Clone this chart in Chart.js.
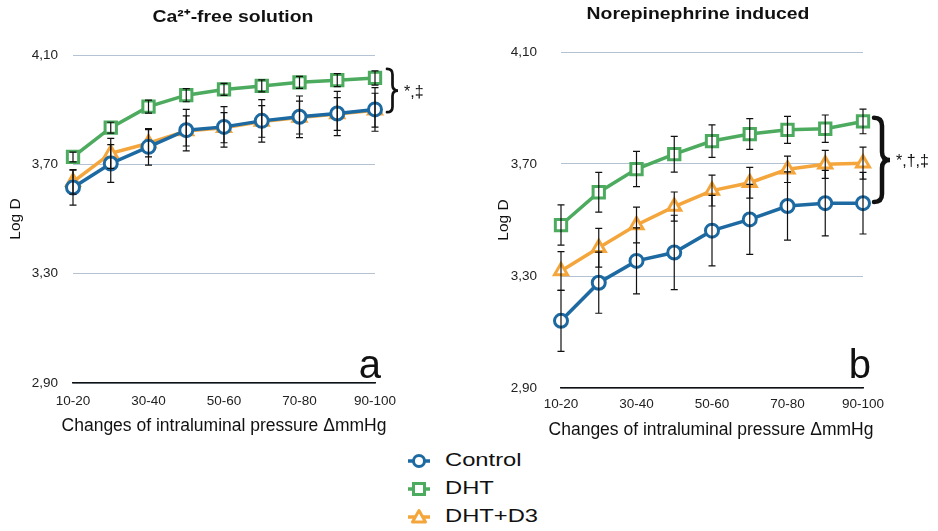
<!DOCTYPE html>
<html>
<head>
<meta charset="utf-8">
<script src="https://cdn.jsdelivr.net/npm/chart.js@4.4.1/dist/chart.umd.min.js"></script>
<style>
  body { margin: 0; background: #fff; font-family: "Liberation Sans", Arial, sans-serif; color: #111; }
  #page { position: relative; width: 938px; height: 531px; overflow: hidden; }
  .panel { position: absolute; top: 0; }
  .ttl { position: absolute; top: 4px; font-weight: bold; font-size: 17px; white-space: nowrap;
         transform: translateX(-50%) scaleX(1.14); }
  .xttl { position: absolute; font-size: 17.5px; line-height: 20px; white-space: nowrap;
          transform: translate(-50%, -50%); }
  #legend { position: absolute; left: 406px; top: 447px; }
  .row { position: relative; height: 28px; }
  .row svg { position: absolute; left: 0; top: 4px; }
  .row span { position: absolute; left: 39px; top: 2px; font-size: 19px; white-space: nowrap;
              transform: scaleX(1.25); transform-origin: left center; }
</style>
</head>
<body>
<div id="page">
  <canvas id="chartA" class="panel" style="left:0" width="469" height="440"></canvas>
  <canvas id="chartB" class="panel" style="left:469px" width="469" height="440"></canvas>
  <div class="ttl" style="left:233px">Ca²⁺-free solution</div>
  <div class="ttl" style="left:698px">Norepinephrine induced</div>
  <div class="xttl" style="left:224px; top:425px">Changes of intraluminal pressure ΔmmHg</div>
  <div class="xttl" style="left:711px; top:429px">Changes of intraluminal pressure ΔmmHg</div>
  <div id="legend"></div>
</div>
<script>
// x categories (ticks shown for every other one)
const pressureLabels = ["10-20", "20-30", "30-40", "40-50", "50-60", "60-70", "70-80", "80-90", "90-100"];
const yTicks = [2.9, 3.3, 3.7, 4.1];

// panel a: Ca2+-free solution (mean, +/- error)
const caControl = [3.615, 3.703, 3.764, 3.825, 3.837, 3.859, 3.874, 3.886, 3.901];
const caControlErr = [0.064, 0.069, 0.067, 0.076, 0.074, 0.078, 0.076, 0.081, 0.080];
const caDht = [3.727, 3.834, 3.911, 3.953, 3.974, 3.987, 4.000, 4.008, 4.016];
const caDhtErr = [0.018, 0.020, 0.024, 0.024, 0.022, 0.022, 0.022, 0.024, 0.026];
const caDhtD3 = [3.636, 3.740, 3.777, 3.822, 3.834, 3.857, 3.871, 3.884, 3.898];
const caDhtD3Err = [0.045, 0.055, 0.050, 0.055, 0.055, 0.058, 0.060, 0.060, 0.062];

// panel b: norepinephrine induced
const neControl = [3.140, 3.276, 3.354, 3.384, 3.462, 3.502, 3.550, 3.560, 3.560];
const neControlErr = [0.109, 0.109, 0.118, 0.133, 0.126, 0.125, 0.122, 0.117, 0.110];
const neDht = [3.482, 3.599, 3.682, 3.735, 3.782, 3.807, 3.822, 3.826, 3.852];
const neDhtErr = [0.072, 0.071, 0.063, 0.064, 0.058, 0.055, 0.048, 0.049, 0.044];
const neDhtD3 = [3.318, 3.401, 3.482, 3.548, 3.605, 3.633, 3.681, 3.699, 3.703];
const neDhtD3Err = [0.069, 0.069, 0.064, 0.052, 0.055, 0.055, 0.047, 0.050, 0.057];

const seriesNames = ["Control", "DHT", "DHT+D3"];
const seriesColors = ["#1d6aa2", "#4dab5f", "#f4a63c"];
const seriesShapes = ["circle", "rect", "triangle"];
const seriesRadius = [6.5, 8, 7.5];

const FONT = "'Liberation Sans', Arial, sans-serif";

// error bars drawn on top of the markers
const errorBars = {
    id: "errorBars",
    afterDatasetsDraw(chart) {
        const { ctx } = chart;
        const y = chart.scales.y;
        ctx.save();
        ctx.strokeStyle = "#111";
        ctx.lineWidth = 1.2;
        chart.data.datasets.forEach((ds, i) => {
            const meta = chart.getDatasetMeta(i);
            ds.errors.forEach((e, j) => {
                const px = meta.data[j].x;
                const top = y.getPixelForValue(ds.data[j] + e);
                const bot = y.getPixelForValue(ds.data[j] - e);
                ctx.beginPath();
                ctx.moveTo(px, top); ctx.lineTo(px, bot);
                ctx.moveTo(px - 3.5, top); ctx.lineTo(px + 3.5, top);
                ctx.moveTo(px - 3.5, bot); ctx.lineTo(px + 3.5, bot);
                ctx.stroke();
            });
        });
        ctx.restore();
    },
};

// panel letter, significance brace and marks
const panelNotes = {
    id: "panelNotes",
    afterDraw(chart, args, opts) {
        const { ctx, chartArea } = chart;
        const y = chart.scales.y;
        ctx.save();
        ctx.fillStyle = "#111";
        ctx.font = "40px " + FONT;
        ctx.textAlign = "right";
        ctx.textBaseline = "alphabetic";
        ctx.fillText(opts.letter, chartArea.right + opts.letterDx, chartArea.bottom - opts.letterDy);

        const y1 = y.getPixelForValue(opts.brace[0]);
        const y2 = y.getPixelForValue(opts.brace[1]);
        const x = chartArea.right + opts.braceDx;
        const w = opts.braceW;
        const h = w / 2;
        const ym = (y1 + y2) / 2;
        ctx.strokeStyle = "#111";
        ctx.lineWidth = opts.braceLw;
        ctx.lineCap = "round";
        ctx.beginPath();
        ctx.moveTo(x, y1);
        ctx.quadraticCurveTo(x + h, y1, x + h, y1 + h);
        ctx.lineTo(x + h, ym - h);
        ctx.quadraticCurveTo(x + h, ym, x + w, ym);
        ctx.quadraticCurveTo(x + h, ym, x + h, ym + h);
        ctx.lineTo(x + h, y2 - h);
        ctx.quadraticCurveTo(x + h, y2, x, y2);
        ctx.stroke();

        ctx.font = "16px " + FONT;
        ctx.textAlign = "left";
        ctx.textBaseline = "middle";
        ctx.fillText(opts.marks, x + w + 6, ym + 2);
        ctx.restore();
    },
};

function makeDatasets(values, errors) {
    return values.map((v, i) => ({
        label: seriesNames[i],
        data: v,
        errors: errors[i],
        borderColor: seriesColors[i],
        backgroundColor: "#ffffff",
        borderWidth: 3.5,
        pointStyle: seriesShapes[i],
        pointRadius: seriesRadius[i],
        pointBorderWidth: 3,
        pointBorderColor: seriesColors[i],
        pointBackgroundColor: "#ffffff",
        tension: 0,
    }));
}

function makeChart(canvasId, values, errors, box, notes) {
    new Chart(document.getElementById(canvasId), {
        type: "line",
        data: { labels: pressureLabels, datasets: makeDatasets(values, errors) },
        plugins: [errorBars, panelNotes],
        options: {
            responsive: false,
            animation: false,
            devicePixelRatio: 1,
            layout: { padding: { left: 0, right: box.right, top: box.top, bottom: 0 } },
            plugins: {
                legend: { display: false },
                tooltip: { enabled: false },
                panelNotes: notes,
            },
            scales: {
                x: {
                    offset: false,
                    afterFit: (s) => { s.height = box.xHeight; },
                    grid: { display: false },
                    border: { display: true, color: "#111", width: 1.6 },
                    ticks: {
                        autoSkip: false,
                        maxRotation: 0,
                        padding: box.xTickPad,
                        color: "#222",
                        font: { family: FONT, size: 13.5 },
                        callback: (v, i) => (i % 2 === 0 ? pressureLabels[i] : ""),
                    },
                    title: { display: false },
                },
                y: {
                    min: yTicks[0],
                    max: yTicks[yTicks.length - 1],
                    afterFit: (s) => { s.width = box.left; },
                    afterBuildTicks: (s) => { s.ticks = yTicks.map((v) => ({ value: v })); },
                    grid: { color: "#b5c2d3", lineWidth: 1, drawTicks: false },
                    border: { display: false },
                    ticks: {
                        padding: box.yTickPad,
                        color: "#222",
                        font: { family: FONT, size: 13.5 },
                        callback: (v) => v.toFixed(2).replace(".", ","),
                    },
                    title: {
                        display: true,
                        text: "Log D",
                        color: "#111",
                        font: { family: FONT, size: 15.5 },
                        padding: { top: box.yTitlePad, bottom: 0 },
                    },
                },
            },
        },
    });
}

makeChart("chartA",
    [caControl, caDht, caDhtD3],
    [caControlErr, caDhtErr, caDhtD3Err],
    { left: 73, right: 94, top: 55, xHeight: 57, xTickPad: 2, yTickPad: 15, yTitlePad: 6 },
    { letter: "a", letterDx: 6, letterDy: 5, brace: [4.049, 3.891], braceDx: 12, braceW: 11, braceLw: 2.7, marks: "*,‡" });

makeChart("chartB",
    [neControl, neDht, neDhtD3],
    [neControlErr, neDhtErr, neDhtD3Err],
    { left: 92, right: 75, top: 52, xHeight: 52, xTickPad: 0, yTickPad: 24, yTitlePad: 25 },
    { letter: "b", letterDx: 8, letterDy: 10, brace: [3.865, 3.564], braceDx: 11, braceW: 16, braceLw: 4.5, marks: "*,†,‡" });

// legend below the two panels
const legend = document.getElementById("legend");
seriesNames.forEach((name, i) => {
    const c = seriesColors[i];
    let mark;
    if (seriesShapes[i] === "circle") {
        mark = `<circle cx="13" cy="10" r="5.5" fill="#fff" stroke="${c}" stroke-width="3"/>`;
    } else if (seriesShapes[i] === "rect") {
        mark = `<rect x="7.5" y="4.5" width="11" height="11" fill="#fff" stroke="${c}" stroke-width="3"/>`;
    } else {
        mark = `<polygon points="13,3.5 19.5,15 6.5,15" fill="#fff" stroke="${c}" stroke-width="3" stroke-linejoin="round"/>`;
    }
    const row = document.createElement("div");
    row.className = "row";
    row.innerHTML = `<svg width="26" height="20"><line x1="2" y1="10" x2="24" y2="10" stroke="${c}" stroke-width="3.5"/>${mark}</svg><span>${name}</span>`;
    legend.appendChild(row);
});
</script>
</body>
</html>
